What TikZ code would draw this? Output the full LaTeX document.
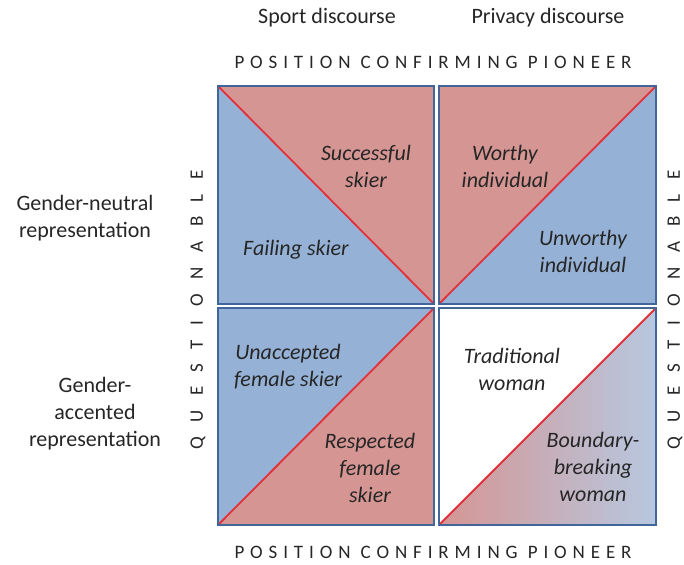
\documentclass[tikz,border=0pt]{standalone}
\usepackage{fontspec}
\setmainfont{Carlito}
\newfontfamily\trackfont[LetterSpace=31]{Carlito}
\newfontfamily\widetrackfont[LetterSpace=76]{Carlito}
\definecolor{rosefill}{HTML}{D59593}
\definecolor{bluefill}{HTML}{95B1D5}
\definecolor{paleblue}{HTML}{B7C8E0}
\definecolor{frameblue}{HTML}{41679A}
\definecolor{splitred}{HTML}{E2313A}
\definecolor{inkgray}{HTML}{262626}

\begin{document}
\begin{tikzpicture}[x=1pt,y=-1pt,
  frame/.style={draw=frameblue, line width=1.6pt},
  split/.style={draw=splitred, line width=1.8pt},
  cell/.style={font=\fontsize{22}{27}\selectfont\itshape, text=inkgray, align=center, inner sep=0pt},
  head/.style={font=\fontsize{22}{27}\selectfont, text=inkgray, align=center, inner sep=0pt},
  axis/.style={font=\trackfont\fontsize{19}{19}\selectfont, text=inkgray, inner sep=0pt},
  sideaxis/.style={font=\widetrackfont\fontsize{19}{19}\selectfont, text=inkgray, inner sep=0pt, rotate=90}]

\useasboundingbox (0,0) rectangle (684,564);

% sport discourse, gender-neutral
\fill[bluefill] (218,86) -- (218,304) -- (434,304) -- cycle;
\fill[rosefill] (218,86) -- (434,86) -- (434,304) -- cycle;
\draw[split] (218,86) -- (434,304);
\draw[frame] (218,86) rectangle (434,304);

% privacy discourse, gender-neutral
\fill[rosefill] (439,86) -- (656,86) -- (439,304) -- cycle;
\fill[bluefill] (656,86) -- (656,304) -- (439,304) -- cycle;
\draw[split] (439,304) -- (656,86);
\draw[frame] (439,86) rectangle (656,304);

% sport discourse, gender-accented
\fill[bluefill] (218,308) -- (434,308) -- (218,525) -- cycle;
\fill[rosefill] (434,308) -- (434,525) -- (218,525) -- cycle;
\draw[split] (218,525) -- (434,308);
\draw[frame] (218,308) rectangle (434,525);

% privacy discourse, gender-accented
\shade[left color=rosefill, right color=paleblue] (656,308) -- (656,525) -- (439,525) -- cycle;
\draw[split] (439,525) -- (656,308);
\draw[frame] (439,308) rectangle (656,525);

\node[head] (sport) at (327,18) {Sport discourse};
\node[head] (privacy) at (548,18) {Privacy discourse};
\node[head] (neutral) at (85,218) {Gender-neutral\\representation};
\node[head] (accented) at (95,413.5) {Gender-\\accented\\representation};

\node[axis] (toppioneer) at (433,62) {POSITION CONFIRMING PIONEER};
\node[axis] (botpioneer) at (433,552) {POSITION CONFIRMING PIONEER};
\node[sideaxis] (leftq) at (198,310) {QUESTIONABLE};
\node[sideaxis] (rightq) at (675,310) {QUESTIONABLE};

\node[cell] (successful) at (366,166) {Successful\\skier};
\node[cell] (failing) at (296,250) {Failing skier};
\node[cell] (worthy) at (505,166) {Worthy\\individual};
\node[cell] (unworthy) at (583,251) {Unworthy\\individual};
\node[cell] (unaccepted) at (288,367) {Unaccepted\\female skier};
\node[cell] (respected) at (370,468) {Respected\\female\\skier};
\node[cell] (traditional) at (512,369) {Traditional\\woman};
\node[cell] (boundary) at (593,467) {Boundary-\\breaking\\woman};
\end{tikzpicture}
\end{document}
